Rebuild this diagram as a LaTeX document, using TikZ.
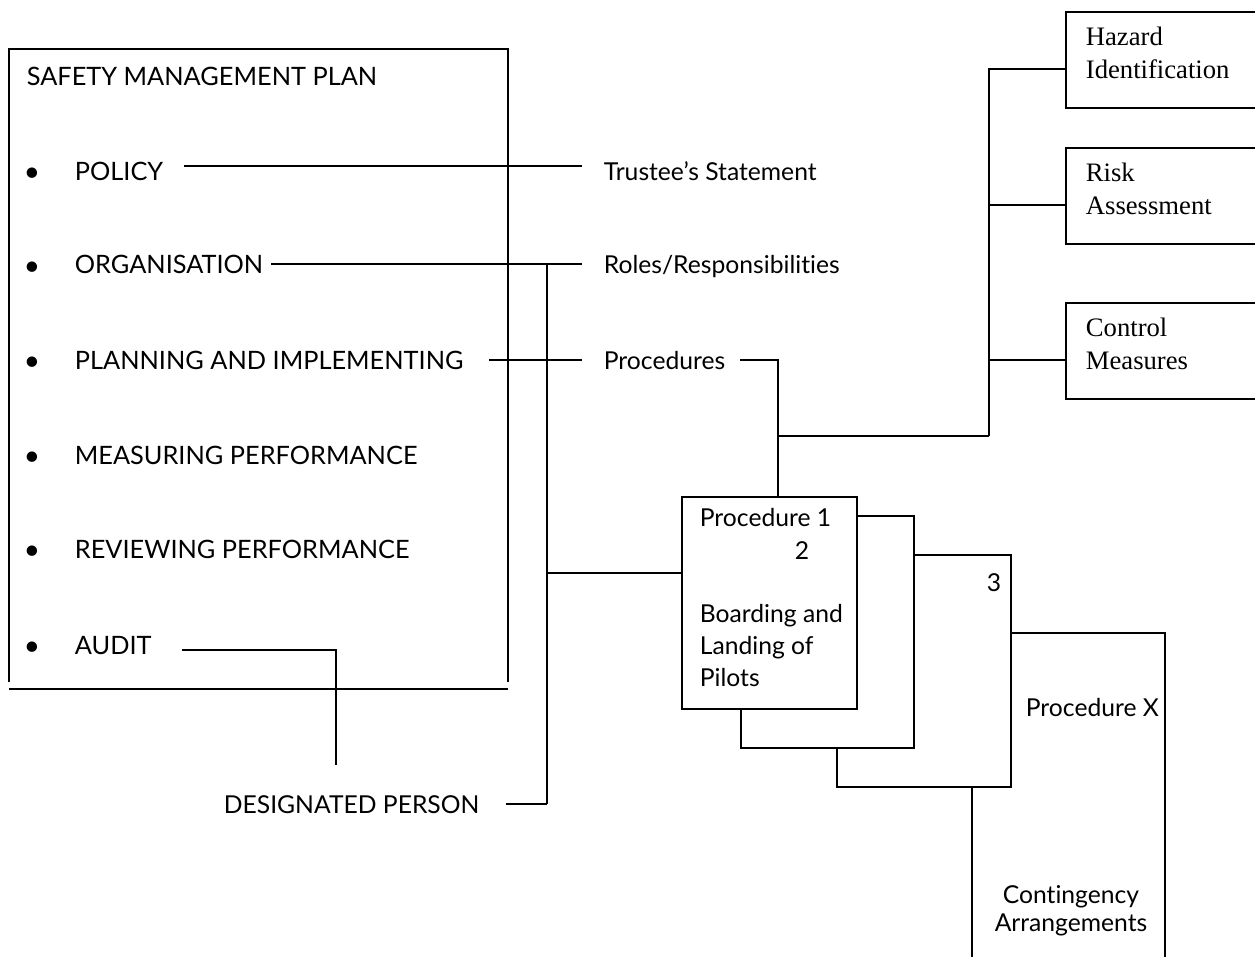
\documentclass[tikz,border=0pt]{standalone}
\usepackage{fontspec}
\setmainfont[Ligatures=NoCommon]{Lato}
\newfontfamily\tnr{Liberation Serif}
\usetikzlibrary{calc}
\newcommand\pxu{0.75pt}
\begin{document}
\begin{tikzpicture}[x=0.75pt,y=-0.75pt,line width=1.3pt,
  big/.style={inner sep=0pt,anchor=west,font=\fontsize{19}{24}\selectfont,text height=14.25pt,text depth=0pt},
  small/.style={inner sep=0pt,anchor=west,font=\fontsize{18.5}{24}\selectfont,text height=13.5pt,text depth=0pt},
  bul/.style={inner sep=0pt,anchor=center,font=\fontsize{21}{24}\selectfont,text height=15pt,text depth=0pt},
  serif/.style={inner sep=0pt,anchor=north west,align=left,font=\tnr\fontsize{20}{24.75}\selectfont},
  tbox/.style={draw,inner sep=0pt,anchor=north west,minimum width=195*\pxu,minimum height=96*\pxu},
  page/.style={draw,fill=white,inner sep=0pt,anchor=north west}]
\useasboundingbox (0,0) rectangle (1255,956);
\clip (0,0) rectangle (1255,956);
% main frame
\draw (9,682) -- (9,49) -- (508,49) -- (508,682);
\draw (9,689) -- (508,689);
\node[big] (title) at (26,76) {SAFETY MANAGEMENT PLAN};
\node[bul] (b1) at (32,171) {\textbullet};
\node[bul] (b2) at (32,265) {\textbullet};
\node[bul] (b3) at (32,360) {\textbullet};
\node[bul] (b4) at (32,455) {\textbullet};
\node[bul] (b5) at (32,549) {\textbullet};
\node[bul] (b6) at (32,645) {\textbullet};
\node[big] (policy) at (74,171) {POLICY};
\node[big] (org) at (74,264) {ORGANISATION};
\node[big] (plan) at (74,360) {PLANNING AND IMPLEMENTING};
\node[big] (meas) at (74,455) {MEASURING PERFORMANCE};
\node[big] (rev) at (74,549) {REVIEWING PERFORMANCE};
\node[big] (audit) at (74,645) {AUDIT};
% labels
\node[small] (trustee) at (603,171) {Trustee’s Statement};
\node[small] (roles) at (603,264) {Roles/Responsibilities};
\node[small] (procs) at (603,360) {Procedures};
\node[small] (desig) at (223,804) {DESIGNATED PERSON};
% right boxes
\node[tbox] (haz) at (1065,11) {};
\node[tbox] (risk) at (1065,147) {};
\node[tbox] (ctrl) at (1065,302) {};
\node[serif] (hazt) at ($(haz.north west)+(20,15)$) {Hazard\\Identification};
\node[serif] (riskt) at ($(risk.north west)+(20,15)$) {Risk\\Assessment};
\node[serif] (ctrlt) at ($(ctrl.north west)+(20,15)$) {Control\\Measures};
% stacked procedure pages
\node[page,minimum width=193*\pxu,minimum height=340*\pxu] (page4) at (971,632) {};
\node[page,minimum width=174*\pxu,minimum height=232*\pxu] (page3) at (836,554) {};
\node[page,minimum width=173*\pxu,minimum height=232*\pxu] (page2) at (740,515) {};
\node[page,minimum width=175*\pxu,minimum height=212*\pxu] (page1) at (681,496) {};
\node[small] (p1t) at (699,517) {Procedure 1};
\node[small,anchor=center] (p2t) at (802,550) {2};
\node[small,anchor=center] (p3t) at (994,582) {3};
\node[small,anchor=north west,align=left,text height=,text depth=] (board) at (699,603) {Boarding and\\Landing of\\Pilots};
\node[small] (pXt) at (1025,707) {Procedure X};
\node[small,anchor=north,align=center,text height=,text depth=,font=\fontsize{18.5}{21}\selectfont] (cont) at (1071,885) {Contingency\\Arrangements};
% junctions
\coordinate (jO) at (547,264);
\coordinate (jD) at (547,804);
\coordinate (jP) at (547,573);
\coordinate (jA) at (336,765);
\coordinate (jQ) at (778,436);
\coordinate (jC) at (989,436);
\coordinate (hB) at ($(haz.north west)+(0,58)$);
\coordinate (rB) at ($(risk.north west)+(0,58)$);
\coordinate (cB) at ($(ctrl.north west)+(0,58)$);
% connectors
\draw ($(policy.east)+(20,-5)$) -- ($(trustee.west)+(-21,-5)$);
\draw ($(org.east)+(7,0)$) -- ($(roles.west)+(-21,0)$);
\draw (jO) -- (jD);
\draw ($(desig.east)+(26,0)$) -- (jD);
\draw (jP) -- (jP -| page1.west);
\draw ($(plan.east)+(25,0)$) -- ($(procs.west)+(-21,0)$);
\draw ($(procs.east)+(14,0)$) -| (jQ) -- (jQ |- page1.north);
\draw (jQ) -- (jC);
\draw (hB) -| (jC);
\draw (rB) -- (rB -| jC);
\draw (cB) -- (cB -| jC);
\draw ($(audit.east)+(30,5)$) -| (jA);
\end{tikzpicture}
\end{document}
